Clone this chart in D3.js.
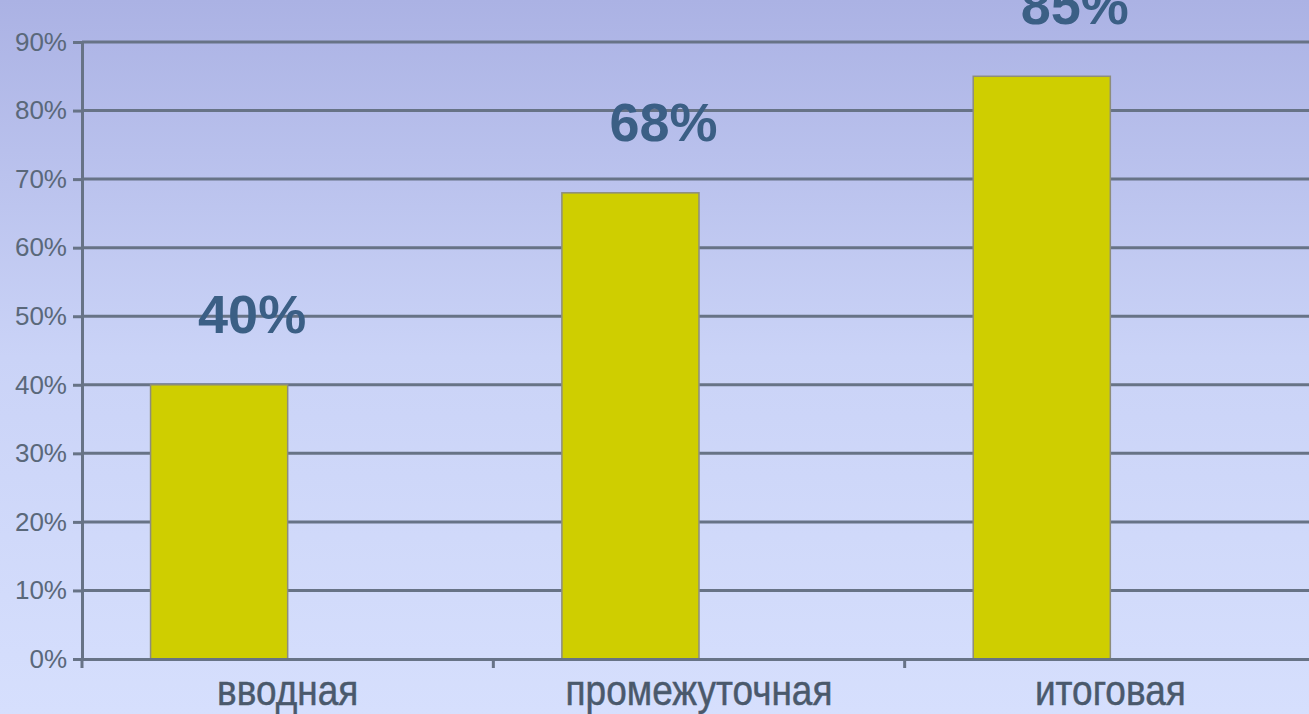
<!DOCTYPE html>
<html>
<head>
<meta charset="utf-8">
<script src="https://cdn.jsdelivr.net/npm/d3@7"></script>
<style>
  html, body { margin: 0; padding: 0; overflow: hidden; }
  svg { display: block; }
</style>
</head>
<body>
<script>
// data
const categories = ['вводная', 'промежуточная', 'итоговая'];
const values = [0.40, 0.68, 0.85];
const series = ['s1', 's2']; // second series is empty, it only takes the space
const yTicks = [0, 0.1, 0.2, 0.3, 0.4, 0.5, 0.6, 0.7, 0.8, 0.9];

const W = 1309, H = 714;
const margin = { top: 42, right: -7, bottom: 55, left: 82 };

const svg = d3.select('body').append('svg')
    .attr('width', W)
    .attr('height', H);

const defs = svg.append('defs');
const grad = defs.append('linearGradient')
    .attr('id', 'bg')
    .attr('x1', 0).attr('y1', 0).attr('x2', 0).attr('y2', 1);
grad.append('stop').attr('offset', '0%').attr('stop-color', '#abb2e4');
grad.append('stop').attr('offset', '50%').attr('stop-color', '#cad3f7');
grad.append('stop').attr('offset', '100%').attr('stop-color', '#d6dffd');

svg.append('rect')
    .attr('width', W)
    .attr('height', H)
    .attr('fill', 'url(#bg)');

const x = d3.scaleBand()
    .domain(categories)
    .range([margin.left, W - margin.right])
    .padding(0);

const xs = d3.scaleBand()
    .domain(series)
    .range([0, x.bandwidth()])
    .paddingInner(0)
    .paddingOuter(0.5);

const y = d3.scaleLinear()
    .domain([0, 0.9])
    .range([H - margin.bottom, margin.top]);

const lineColor = '#677386';

// gridlines
svg.append('g')
    .selectAll('line')
    .data(yTicks.slice(1))
    .enter().append('line')
      .attr('x1', margin.left)
      .attr('x2', W)
      .attr('y1', d => y(d))
      .attr('y2', d => y(d))
      .style('stroke', lineColor)
      .style('stroke-width', '3px');

// y axis
const yAxis = svg.append('g')
    .attr('transform', `translate(${margin.left},0)`)
    .call(d3.axisLeft(y).tickValues(yTicks).tickFormat(d3.format('.0%')).tickSize(9).tickPadding(6));
yAxis.select('.domain').style('stroke', lineColor).style('stroke-width', '3px');
yAxis.selectAll('.tick line').style('stroke', lineColor).style('stroke-width', '3px');
yAxis.selectAll('.tick text')
    .style('font-family', 'Liberation Sans, Arial, sans-serif')
    .style('font-size', '26px')
    .style('fill', '#5a687a');

// bars
svg.append('g')
    .selectAll('rect')
    .data(values)
    .enter().append('rect')
      .attr('x', (d, i) => x(categories[i]) + xs('s1'))
      .attr('y', d => y(d))
      .attr('width', xs.bandwidth())
      .attr('height', d => y(0) - y(d))
      .style('fill', '#cfce00')
      .style('stroke', '#8d8d7c')
      .style('stroke-width', '1.5px');

// x axis
const xAxis = svg.append('g')
    .attr('transform', `translate(0,${y(0)})`)
    .call(d3.axisBottom(x).tickSize(0).tickFormat(''));
xAxis.select('.domain').style('stroke', lineColor).style('stroke-width', '3px');
xAxis.selectAll('.tick').remove();

// tick marks between categories
const bounds = categories.map(c => x(c)).concat([x(categories[categories.length - 1]) + x.bandwidth()]);
svg.append('g')
    .selectAll('line')
    .data(bounds)
    .enter().append('line')
      .attr('x1', d => d)
      .attr('x2', d => d)
      .attr('y1', y(0))
      .attr('y2', y(0) + 9)
      .style('stroke', lineColor)
      .style('stroke-width', '3px');

// category labels (font in the picture is a bit narrow)
svg.append('g')
    .selectAll('text')
    .data(categories)
    .enter().append('text')
      .attr('transform', d => `translate(${x(d) + x.bandwidth() / 2},${y(0) + 46}) scale(0.86,1)`)
      .attr('text-anchor', 'middle')
      .style('font-family', 'Liberation Sans, Arial, sans-serif')
      .style('font-size', '43px')
      .style('fill', '#4a596c')
      .style('stroke', '#4a596c')
      .style('stroke-width', '0.5px')
      .text(d => d);

// value labels (the top one is cut off by the frame, as in the original)
svg.append('g')
    .selectAll('text')
    .data(values)
    .enter().append('text')
      .attr('x', (d, i) => x(categories[i]) + xs('s1') + xs.bandwidth() / 2 + 33)
      .attr('y', d => y(d) - 52)
      .attr('text-anchor', 'middle')
      .style('font-family', 'Liberation Sans, Arial, sans-serif')
      .style('font-weight', 'bold')
      .style('font-size', '54px')
      .style('fill', '#3b5f85')
      .text(d => d3.format('.0%')(d));
</script>
</body>
</html>
